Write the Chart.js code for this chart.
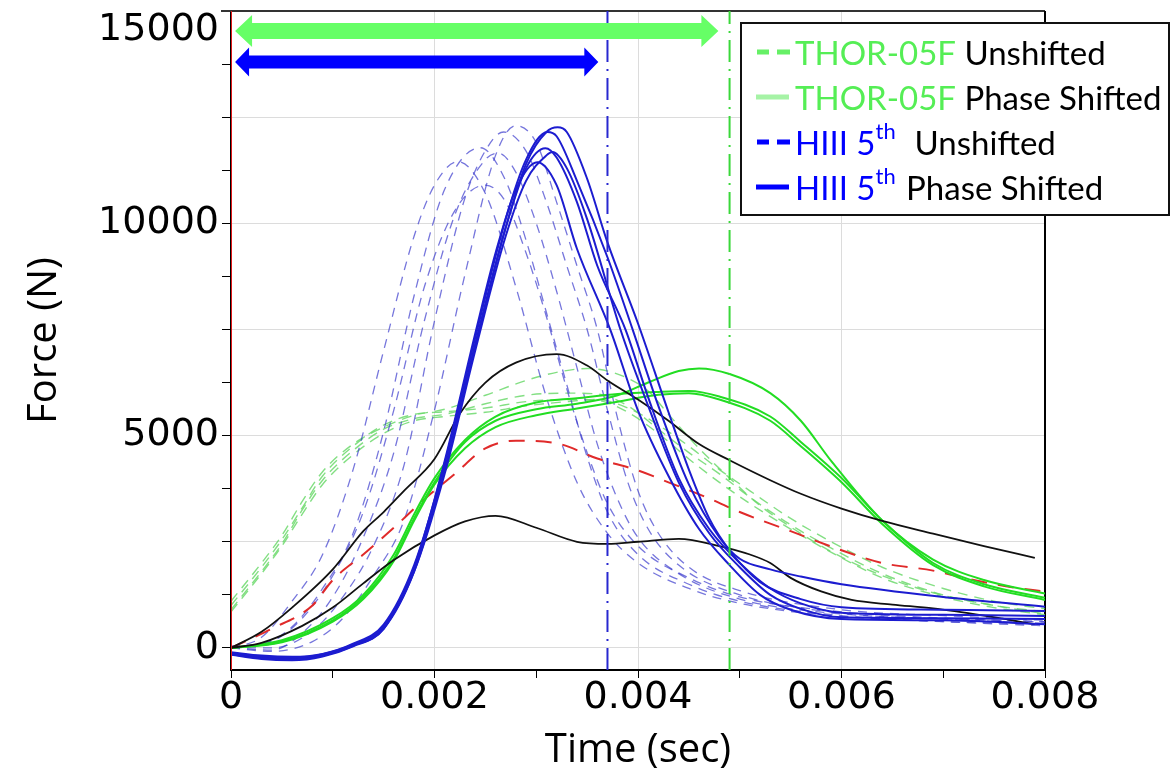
<!DOCTYPE html>
<html>
<head>
<meta charset="utf-8">
<title>Force vs Time</title>
<script src="https://cdn.jsdelivr.net/npm/chart.js@4.4.0/dist/chart.umd.min.js"></script>
<style>
  html, body { margin: 0; padding: 0; background: #fff; }
  #wrap { width: 1170px; height: 775px; }
</style>
</head>
<body>
<div id="wrap"><canvas id="forceChart" width="1170" height="775"></canvas></div>
<script>
// =============================
// Data (time in s, force in N)
// =============================
const hiiiShifted = [
  [[0,-120],[0.0003,-200],[0.0006,-230],[0.0009,-150],[0.0012,80],[0.0015,500],[0.0018,1850],[0.0021,4200],[0.0024,7100],[0.0027,9900],[0.0029,11400],[0.0031,12150],[0.00321,12260],[0.0033,12150],[0.0035,11050],[0.0037,9550],[0.004,7640],[0.0043,5550],[0.0045,4200],[0.0047,3050],[0.0049,2300],[0.0052,1550],[0.0056,1150],[0.006,960],[0.007,900],[0.008,870]],
  [[0,-100],[0.0003,-180],[0.0006,-210],[0.0009,-140],[0.0012,100],[0.0015,550],[0.0018,1950],[0.0021,4350],[0.0024,7300],[0.0027,10100],[0.0029,11500],[0.00311,12150],[0.0032,12050],[0.0034,11000],[0.0037,9200],[0.00395,7480],[0.0042,5700],[0.0045,3850],[0.0048,2600],[0.005,2100],[0.0053,1850],[0.0056,1680],[0.006,1500],[0.007,1200],[0.008,970]],
  [[0,-150],[0.0003,-240],[0.0006,-270],[0.0009,-180],[0.0012,50],[0.0015,450],[0.0018,1800],[0.0021,4200],[0.0024,7150],[0.0027,9900],[0.0029,11300],[0.00309,11770],[0.0032,11550],[0.0034,10500],[0.0036,9000],[0.00388,7480],[0.0041,5900],[0.0044,4000],[0.0047,2800],[0.005,2000],[0.0053,1400],[0.0056,1050],[0.006,830],[0.007,780],[0.008,750]],
  [[0,-130],[0.0003,-220],[0.0006,-250],[0.0009,-170],[0.0012,60],[0.0015,480],[0.0018,1800],[0.0021,4100],[0.0024,7000],[0.0027,9700],[0.0029,11000],[0.0031,11600],[0.00316,11680],[0.0033,11300],[0.0035,10100],[0.00383,7480],[0.0041,5700],[0.0044,3900],[0.0047,2700],[0.005,1900],[0.0053,1250],[0.0056,920],[0.006,720],[0.007,700],[0.008,680]],
  [[0,-160],[0.0003,-260],[0.0006,-290],[0.0009,-200],[0.0012,40],[0.0015,450],[0.0018,1900],[0.0021,4400],[0.0024,7400],[0.0026,9300],[0.0028,10800],[0.00301,11440],[0.0032,10900],[0.0034,9400],[0.00373,7480],[0.004,5590],[0.0043,4050],[0.0046,2800],[0.0049,1950],[0.0052,1250],[0.0055,900],[0.006,680],[0.007,650],[0.008,560]]
];

const hiiiUnshifted = [
  [[0,0],[0.0004,-80],[0.0008,150],[0.0011,700],[0.0014,1700],[0.0017,3000],[0.002,5600],[0.0023,8800],[0.0026,11600],[0.0028,12300],[0.003,11900],[0.0032,10500],[0.0034,9000],[0.0036,7500],[0.0038,5400],[0.004,3700],[0.0042,2700],[0.0045,1900],[0.005,1350],[0.006,900],[0.007,760],[0.008,650]],
  [[0,0],[0.0004,0],[0.0008,400],[0.0011,1200],[0.0014,2400],[0.0017,4300],[0.002,7700],[0.0023,10600],[0.00255,11900],[0.00268,12150],[0.0029,11700],[0.0031,10500],[0.0033,9000],[0.0035,7500],[0.0037,5600],[0.0039,3900],[0.0041,2800],[0.0044,1950],[0.005,1250],[0.006,820],[0.007,680],[0.008,580]],
  [[0,50],[0.0003,100],[0.0006,500],[0.0009,1400],[0.0012,2700],[0.0015,5100],[0.0018,8300],[0.0021,10800],[0.00245,11780],[0.0027,11000],[0.0029,9600],[0.0031,7900],[0.0033,6200],[0.0035,4500],[0.0037,3200],[0.004,2200],[0.0045,1500],[0.005,1100],[0.006,760],[0.007,620],[0.008,520]],
  [[0,0],[0.0004,-50],[0.0007,350],[0.001,1200],[0.0013,2600],[0.0016,4600],[0.0019,7700],[0.0022,10200],[0.0025,11500],[0.00263,11650],[0.0028,11200],[0.003,10000],[0.0032,8400],[0.0034,6600],[0.0036,4800],[0.0038,3500],[0.004,2600],[0.0044,1750],[0.005,1150],[0.006,800],[0.007,690],[0.008,620]],
  [[0,0],[0.0003,250],[0.0006,1100],[0.0009,2200],[0.0012,4200],[0.0015,7000],[0.0018,9700],[0.002,10900],[0.00223,11450],[0.0025,10700],[0.0028,8500],[0.0031,5900],[0.0034,3900],[0.0037,2700],[0.004,2000],[0.0045,1400],[0.005,1050],[0.006,740],[0.007,620],[0.008,560]],
  [[0,0],[0.0004,150],[0.0007,700],[0.001,1700],[0.0013,3200],[0.0016,5600],[0.0019,8500],[0.0022,10300],[0.0025,10900],[0.0027,10500],[0.0029,9300],[0.0031,7800],[0.0033,6100],[0.0035,4600],[0.0037,3400],[0.004,2400],[0.0045,1650],[0.005,1200],[0.006,850],[0.007,700],[0.008,610]]
];

const thorShifted = [
  [[0,0],[0.0005,150],[0.001,650],[0.0013,1200],[0.0016,2100],[0.0018,3050],[0.002,3900],[0.0023,4850],[0.0026,5350],[0.003,5620],[0.0034,5750],[0.0038,5950],[0.0041,6250],[0.0044,6520],[0.0046,6580],[0.0049,6450],[0.0053,6000],[0.0056,5350],[0.0059,4400],[0.0064,3000],[0.0069,2080],[0.0074,1600],[0.008,1280]],
  [[0,0],[0.0005,180],[0.001,700],[0.0013,1250],[0.0016,2200],[0.0018,3150],[0.002,4000],[0.0023,4900],[0.0026,5450],[0.003,5780],[0.0034,5880],[0.0038,5980],[0.0042,6030],[0.0045,6050],[0.0048,5920],[0.0053,5450],[0.0056,4850],[0.006,4000],[0.0064,3000],[0.0069,2000],[0.0074,1500],[0.008,1180]],
  [[0,0],[0.0005,130],[0.001,620],[0.0013,1150],[0.0016,2050],[0.0018,3000],[0.002,3850],[0.0023,4700],[0.0026,5200],[0.003,5480],[0.0034,5640],[0.0038,5800],[0.0042,5960],[0.0045,6000],[0.0048,5850],[0.0053,5350],[0.0056,4750],[0.006,3900],[0.0064,2920],[0.0069,1950],[0.0074,1450],[0.008,1130]]
];

const thorUnshifted = [
  [[0,1100],[0.0003,2000],[0.0005,2650],[0.0007,3450],[0.0009,4150],[0.0012,4800],[0.0015,5200],[0.0018,5480],[0.0021,5620],[0.0025,5950],[0.0029,6300],[0.0032,6490],[0.0035,6580],[0.0038,6450],[0.0041,6050],[0.0043,5500],[0.0046,4700],[0.0049,4000],[0.0052,3350],[0.0055,2850],[0.0058,2400],[0.0063,1800],[0.0069,1300],[0.0075,1000],[0.008,800]],
  [[0,900],[0.0003,1800],[0.0005,2450],[0.0007,3250],[0.0009,3950],[0.0012,4650],[0.0015,5150],[0.0018,5400],[0.0021,5500],[0.0025,5750],[0.0029,5950],[0.0033,6000],[0.0036,5980],[0.0039,5700],[0.0042,5150],[0.0045,4600],[0.0048,4100],[0.0051,3550],[0.0055,2900],[0.0059,2350],[0.0064,1750],[0.007,1250],[0.0075,1000],[0.008,850]],
  [[0,1000],[0.0003,1900],[0.0005,2550],[0.0007,3300],[0.0009,4050],[0.0012,4750],[0.0015,5250],[0.0018,5500],[0.0021,5560],[0.0025,5650],[0.0029,5800],[0.0033,5850],[0.0036,5830],[0.0039,5550],[0.0042,5050],[0.0045,4450],[0.0048,3900],[0.0051,3400],[0.0055,2800],[0.0059,2250],[0.0064,1650],[0.007,1200],[0.0075,950],[0.008,780]],
  [[0,850],[0.0003,1750],[0.0005,2400],[0.0007,3150],[0.0009,3850],[0.0012,4550],[0.0015,5050],[0.0018,5350],[0.0021,5450],[0.0025,5550],[0.0029,5700],[0.0033,5800],[0.0036,5850],[0.0039,5650],[0.0042,5250],[0.0045,4750],[0.0048,4200],[0.0051,3700],[0.0055,3050],[0.0059,2500],[0.0064,1900],[0.007,1400],[0.0075,1100],[0.008,920]]
];

const blackUpper = [[0,0],[0.0003,380],[0.0006,950],[0.001,1850],[0.0013,2750],[0.0015,3200],[0.0017,3700],[0.002,4450],[0.00225,5520],[0.0025,6250],[0.0028,6720],[0.0032,6920],[0.0035,6650],[0.0037,6300],[0.004,5850],[0.0043,5350],[0.0046,4800],[0.0049,4420],[0.0053,3950],[0.0056,3630],[0.006,3280],[0.0064,2990],[0.0069,2690],[0.0074,2400],[0.0079,2120]];
const blackLower = [[0,0],[0.0003,120],[0.0007,520],[0.001,950],[0.0013,1520],[0.0016,2070],[0.002,2650],[0.0023,2980],[0.0026,3110],[0.003,2830],[0.0034,2500],[0.0037,2450],[0.004,2500],[0.0044,2570],[0.0048,2400],[0.0051,2200],[0.0053,2000],[0.0055,1650],[0.0058,1330],[0.0061,1130],[0.0065,1020],[0.0069,930],[0.0074,760],[0.0079,560]];
const redDashed = [[0,0],[0.0004,450],[0.0008,1000],[0.001,1600],[0.0013,2200],[0.0016,2830],[0.0019,3500],[0.0022,4100],[0.0025,4700],[0.0028,4880],[0.0032,4820],[0.0036,4460],[0.004,4180],[0.0043,3900],[0.0047,3520],[0.005,3200],[0.0055,2750],[0.006,2300],[0.0064,2000],[0.0069,1820],[0.0072,1650],[0.0077,1420],[0.008,1330]];

// axis ticks
const timeTicks = [0, 0.001, 0.002, 0.003, 0.004, 0.005, 0.006, 0.007, 0.008];
const timeLabels = ['0', '', '0.002', '', '0.004', '', '0.006', '', '0.008'];
const forceTicks = [0, 1250, 2500, 3750, 5000, 6250, 7500, 8750, 10000, 11250, 12500, 13750, 15000];
const forceLabels = ['0', '', '', '', '5000', '', '', '', '10000', '', '', '', '15000'];

// vertical markers and window arrows
const startTime = 0;
const hiiiWindowEnd = 0.0037;
const thorWindowEnd = 0.0049;
const arrows = [
  { from: 0.00004, to: 0.00479, level: 14530, color: '#66ff66', shaft: 8, head: 16, len: 17 },
  { from: 0.00004, to: 0.00361, level: 13800, color: '#0000ff', shaft: 6.5, head: 14.5, len: 14 }
];

const forceMin = -520;
const forceMax = 15000;

const legendRows = [
  { dashed: true,  mark: '#66f066', parts: [['THOR-05F', '#55ee55'], [' Unshifted', '#000']] },
  { dashed: false, mark: '#a6f3a6', parts: [['THOR-05F', '#55ee55'], [' Phase Shifted', '#000']] },
  { dashed: true,  mark: '#0000ff', parts: [['HIII 5', '#0000ff'], ['th', '#0000ff', true], ['  Unshifted', '#000']] },
  { dashed: false, mark: '#0000ff', parts: [['HIII 5', '#0000ff'], ['th', '#0000ff', true], [' Phase Shifted', '#000']] }
];

// =============================
// Datasets
// =============================
const toPoints = arr => arr.map(p => ({ x: p[0], y: p[1] }));

function curve(points, color, width, dash) {
  return {
    data: toPoints(points),
    borderColor: color,
    borderWidth: width,
    borderDash: dash || [],
    pointRadius: 0,
    fill: false,
    cubicInterpolationMode: 'monotone'
  };
}

function vline(t, color, dash) {
  return {
    data: [{ x: t, y: forceMin }, { x: t, y: forceMax }],
    borderColor: color,
    borderWidth: 2,
    borderDash: dash || [],
    pointRadius: 0,
    tension: 0,
    fill: false
  };
}

const datasets = [];
datasets.push(vline(startTime, '#e01818'));
datasets.push(vline(hiiiWindowEnd, '#2828d0', [22, 7, 2, 7]));
datasets.push(vline(thorWindowEnd, '#3ad83a', [22, 7, 2, 7]));
hiiiShifted.forEach(c => datasets.push(curve(c, '#1c1cd0', 2)));
datasets.push(curve(blackUpper, '#111', 1.8));
datasets.push(curve(blackLower, '#111', 1.8));
thorShifted.forEach(c => datasets.push(curve(c, '#22dd22', 2)));
datasets.push(curve(redDashed, '#e02a2a', 2, [16, 11]));
hiiiUnshifted.forEach(c => datasets.push(curve(c, 'rgba(60,60,205,0.7)', 1.3, [9, 7])));
thorUnshifted.forEach(c => datasets.push(curve(c, 'rgba(100,215,100,0.8)', 1.4, [10, 7])));

// =============================
// Plugins: frame, arrows, legend
// =============================
const framePlugin = {
  id: 'frame',
  beforeDatasetsDraw(chart) {
    const { ctx, chartArea: a } = chart;
    ctx.save();
    ctx.strokeStyle = '#333';
    ctx.lineWidth = 2;
    ctx.beginPath();
    ctx.moveTo(a.left - 10, a.top);
    ctx.lineTo(a.right, a.top);
    ctx.stroke();
    ctx.strokeStyle = '#000';
    ctx.beginPath();
    ctx.moveTo(a.right, a.top);
    ctx.lineTo(a.right, a.bottom);
    ctx.stroke();
    ctx.restore();
  }
};

const arrowPlugin = {
  id: 'arrows',
  afterDatasetsDraw(chart) {
    const { ctx, scales } = chart;
    ctx.save();
    arrows.forEach(a => {
      const x1 = scales.x.getPixelForValue(a.from);
      const x2 = scales.x.getPixelForValue(a.to);
      const y = scales.y.getPixelForValue(a.level);
      ctx.fillStyle = a.color;
      ctx.beginPath();
      ctx.moveTo(x1, y);
      ctx.lineTo(x1 + a.len, y - a.head);
      ctx.lineTo(x1 + a.len, y - a.shaft);
      ctx.lineTo(x2 - a.len, y - a.shaft);
      ctx.lineTo(x2 - a.len, y - a.head);
      ctx.lineTo(x2, y);
      ctx.lineTo(x2 - a.len, y + a.head);
      ctx.lineTo(x2 - a.len, y + a.shaft);
      ctx.lineTo(x1 + a.len, y + a.shaft);
      ctx.lineTo(x1 + a.len, y + a.head);
      ctx.closePath();
      ctx.fill();
    });
    ctx.restore();
  }
};

const legendPlugin = {
  id: 'boxLegend',
  afterDraw(chart) {
    const ctx = chart.ctx;
    const box = { x: 741, y: 23, w: 428, h: 192 };
    ctx.save();
    ctx.fillStyle = '#fff';
    ctx.fillRect(box.x, box.y, box.w, box.h);
    ctx.strokeStyle = '#111';
    ctx.lineWidth = 2;
    ctx.strokeRect(box.x, box.y, box.w, box.h);
    legendRows.forEach((row, i) => {
      const y = 52 + i * 45;
      ctx.strokeStyle = row.mark;
      ctx.lineWidth = 5;
      ctx.beginPath();
      if (row.dashed) {
        ctx.moveTo(757, y); ctx.lineTo(769, y);
        ctx.moveTo(777, y); ctx.lineTo(790, y);
      } else {
        ctx.moveTo(756, y); ctx.lineTo(789, y);
      }
      ctx.stroke();
      let x = 795;
      ctx.textBaseline = 'middle';
      row.parts.forEach(([text, color, sup]) => {
        ctx.font = sup ? '22px Lato' : '33px Lato';
        ctx.fillStyle = color;
        ctx.fillText(text, x, sup ? y - 10 : y + 2);
        x += ctx.measureText(text).width + (sup ? 2 : 0);
      });
    });
    ctx.restore();
  }
};

// =============================
// Chart
// =============================
const tickFont = { family: 'DejaVu Sans', size: 38, lineHeight: 1 };
const titleFont = { family: 'Open Sans', size: 40, lineHeight: 1.2 };

const ctx = document.getElementById('forceChart');
new Chart(ctx, {
  type: 'line',
  data: { datasets },
  plugins: [framePlugin, arrowPlugin, legendPlugin],
  options: {
    responsive: false,
    animation: false,
    events: [],
    layout: { padding: { top: 11, right: 125, left: 0, bottom: 0 } },
    plugins: { legend: { display: false }, tooltip: { enabled: false } },
    scales: {
      x: {
        type: 'linear',
        min: 0,
        max: 0.008,
        afterBuildTicks: s => { s.ticks = timeTicks.map(v => ({ value: v })); },
        afterFit: s => { s.height = 105; },
        ticks: {
          autoSkip: false,
          maxRotation: 0,
          padding: 1,
          color: '#000',
          font: tickFont,
          callback: (v, i) => timeLabels[i]
        },
        grid: {
          color: c => {
            const i = timeTicks.indexOf(c.tick.value);
            return (i > 0 && i < timeTicks.length - 1 && i % 2 === 0) ? '#dcdcdc' : 'rgba(0,0,0,0)';
          },
          tickColor: '#000',
          tickLength: 8
        },
        border: { display: true, color: '#000', width: 2 },
        title: { display: true, text: 'Time (sec)', color: '#000', font: titleFont, padding: { top: 0, bottom: 0 } }
      },
      y: {
        type: 'linear',
        min: forceMin,
        max: forceMax,
        afterBuildTicks: s => { s.ticks = forceTicks.map(v => ({ value: v })); },
        afterFit: s => { s.width = 231; s.paddingTop = 0; s.paddingBottom = 0; },
        ticks: {
          autoSkip: false,
          padding: 3,
          color: '#000',
          font: tickFont,
          callback: (v, i) => {
            const label = forceLabels[i];
            return i === forceTicks.length - 1 ? ['', label] : label;
          }
        },
        grid: {
          color: c => (c.tick.value % 2500 === 0 ? '#dcdcdc' : 'rgba(0,0,0,0)'),
          tickColor: '#000',
          tickLength: 9
        },
        border: { display: true, color: '#000', width: 2 },
        title: { display: true, text: 'Force (N)', color: '#000', font: titleFont, padding: { top: 21, bottom: 0 } }
      }
    }
  }
});
</script>
</body>
</html>
